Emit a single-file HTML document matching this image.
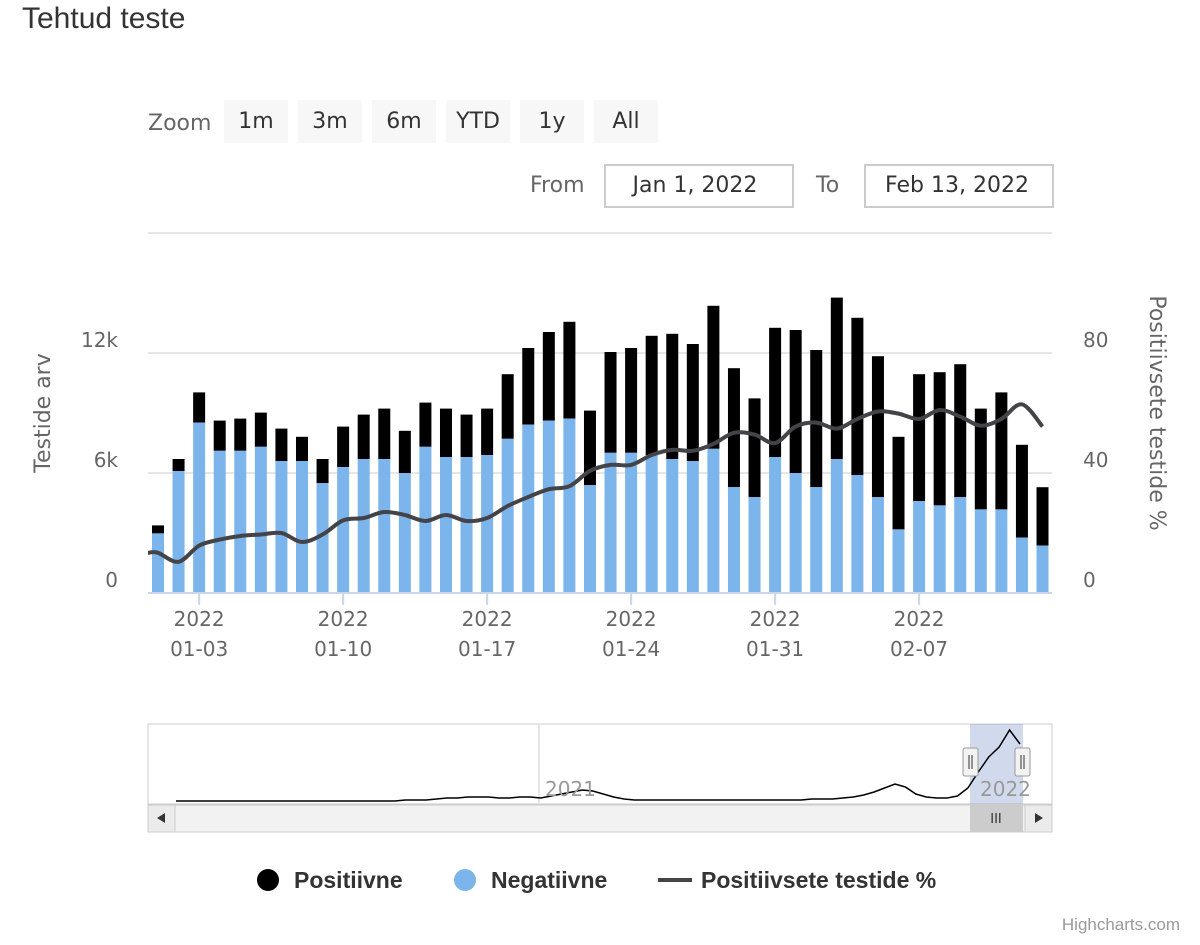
<!DOCTYPE html>
<html><head><meta charset="utf-8"><style>
body{margin:0;background:#fff;font-family:"Liberation Sans","DejaVu Sans",sans-serif;}
svg text{font-family:"DejaVu Sans","Liberation Sans",sans-serif;}
svg text.lib{font-family:"Liberation Sans","DejaVu Sans",sans-serif;}
</style></head><body>
<svg id="c" width="1200" height="940" xmlns="http://www.w3.org/2000/svg">
<text x="22" y="28" font-size="30" fill="#333" class="lib">Tehtud teste</text>
<g>
<text x="148" y="130" font-size="22" fill="#666">Zoom</text>
<rect x="224" y="100" width="64" height="43" fill="#f7f7f7"/><text x="256" y="128" font-size="22" text-anchor="middle" fill="#333">1m</text>
<rect x="298" y="100" width="64" height="43" fill="#f7f7f7"/><text x="330" y="128" font-size="22" text-anchor="middle" fill="#333">3m</text>
<rect x="372" y="100" width="64" height="43" fill="#f7f7f7"/><text x="404" y="128" font-size="22" text-anchor="middle" fill="#333">6m</text>
<rect x="446" y="100" width="64" height="43" fill="#f7f7f7"/><text x="478" y="128" font-size="22" text-anchor="middle" fill="#333">YTD</text>
<rect x="520" y="100" width="64" height="43" fill="#f7f7f7"/><text x="552" y="128" font-size="22" text-anchor="middle" fill="#333">1y</text>
<rect x="594" y="100" width="64" height="43" fill="#f7f7f7"/><text x="626" y="128" font-size="22" text-anchor="middle" fill="#333">All</text>
<text x="530" y="192" font-size="22" fill="#666">From</text>
<rect x="605" y="165" width="188" height="42" fill="#fff" stroke="#ccc" stroke-width="2"/><text x="695" y="192" font-size="22" text-anchor="middle" fill="#333">Jan 1, 2022</text>
<text x="816" y="192" font-size="22" fill="#666">To</text>
<rect x="865" y="165" width="188" height="42" fill="#fff" stroke="#ccc" stroke-width="2"/><text x="957" y="192" font-size="22" text-anchor="middle" fill="#333">Feb 13, 2022</text>
</g>
<g id="grid"></g><g id="bars"></g><g id="line"></g><g id="axes"></g><g id="nav"></g>
<g>
<g><circle cx="268" cy="880" r="11" fill="#000"/><text class="lib" x="294" y="888" font-size="23" font-weight="bold" fill="#333">Positiivne</text></g>
<g><circle cx="465" cy="880" r="11" fill="#7cb5ec"/><text class="lib" x="491" y="888" font-size="23" font-weight="bold" fill="#333">Negatiivne</text></g>
<g><line x1="658" y1="880" x2="692" y2="880" stroke="#434348" stroke-width="4"/><text class="lib" x="701" y="888" font-size="23" font-weight="bold" fill="#333">Positiivsete testide %</text></g>
</g>
<text class="lib" x="1180" y="930" font-size="17" text-anchor="end" fill="#999">Highcharts.com</text>
</svg>
<script>
const negative=[2980,6100,8520,7110,7110,7310,6600,6600,5490,6300,6700,6700,6000,7310,6800,6800,6900,7710,8420,8620,8720,5390,7010,7010,6900,6700,6600,7210,5290,4790,6800,6000,5290,6700,5900,4790,3180,4590,4380,4790,4180,4180,2770,2370];
const total=[3380,6700,10030,8620,8720,9020,8220,7810,6700,8320,8920,9220,8110,9520,9220,8920,9220,10940,12250,13050,13560,9120,12050,12250,12860,12960,12450,14360,11240,9730,13260,13150,12150,14770,13760,11840,7810,10940,11040,11440,9220,10030,7410,5290];
const percent=[13.4,10.4,15.8,17.8,19,19.5,20,17,19.5,24.2,25,27,26,24,26,24,25,29,32,34.6,35.6,40.7,42.7,42.7,46,47.7,47.4,49.7,53.4,52.8,50,55.5,56.8,54.8,58,60.5,59.8,58,61,58.8,55.8,58,62.9,55.5];
const leftTicks=[0,6000,12000];
const leftTickLabels=["0","6k","12k"];
const rightTicks=[0,40,80];
const xTickDays=[2,9,16,23,30,37];
const xTickLabels=["01-03","01-10","01-17","01-24","01-31","02-07"];
const navData=[1,1,1,1,1,1,1,1,1,1,1,1,1,1,1,1,1,1,1,1,1,1,2,2,2,3,4,4,5,5,5,4,4,5,5,4,6,8,10,12,11,8,5,3,2,2,2,2,2,2,2,2,2,2,2,2,2,2,2,2,2,3,3,3,4,5,7,10,14,18,15,8,5,4,4,6,14,30,45,55,72,58];
const NS="http://www.w3.org/2000/svg";
const X0=148,X1=1052,YT=233,YB=593;
const xDay=i=>158+i*20.57;
const yL=v=>YB-(v/18000)*(YB-YT);
const yR=v=>YB-(v/120)*(YB-YT);
function mk(p,t,a){const e=document.createElementNS(NS,t);for(const k in a)e.setAttribute(k,a[k]);p.appendChild(e);return e;}
const grid=document.getElementById('grid'),bars=document.getElementById('bars'),line=document.getElementById('line'),axes=document.getElementById('axes'),nav=document.getElementById('nav');
[0,6000,12000,18000].forEach(v=>{const g=mk(grid,'line',{x1:X0,x2:X1,y1:yL(v),y2:yL(v),stroke:'#e6e6e6','stroke-width':2});

});
leftTicks.forEach((v,i)=>{const t=mk(axes,'text',{x:118,y:yL(v)-6,'font-size':20,'text-anchor':'end',fill:'#666'});t.textContent=leftTickLabels[i];

});
rightTicks.forEach(v=>{const t=mk(axes,'text',{x:1083,y:yR(v)-6,'font-size':20,fill:'#666'});t.textContent=v;

});
let t=mk(axes,'text',{x:0,y:0,'font-size':22,fill:'#666','text-anchor':'middle',transform:'translate(50,413) rotate(-90)'});t.textContent='Testide arv';


t=mk(axes,'text',{x:0,y:0,'font-size':22,fill:'#666','text-anchor':'middle',transform:'translate(1150,413) rotate(90)'});t.textContent='Positiivsete testide %';


let ax=mk(axes,'line',{x1:X0,x2:X1,y1:YB,y2:YB,stroke:'#ccd6eb','stroke-width':2});


xTickDays.forEach((d,i)=>{const x=xDay(d);
const tk=mk(axes,'line',{x1:x,x2:x,y1:YB,y2:YB+12,stroke:'#ccd6eb','stroke-width':2});


const a=mk(axes,'text',{x:x,y:626,'font-size':20,'text-anchor':'middle',fill:'#666'});a.textContent='2022';


const b=mk(axes,'text',{x:x,y:656,'font-size':20,'text-anchor':'middle',fill:'#666'});b.textContent=xTickLabels[i];

});
const bw=12;
total.forEach((v,i)=>{const x=xDay(i)-bw/2;
const p=mk(bars,'rect',{x:x,y:yL(v),width:bw,height:yL(negative[i])-yL(v),fill:'#000'});


const n=mk(bars,'rect',{x:x,y:yL(negative[i]),width:bw,height:YB-yL(negative[i]),fill:'#7cb5ec'});

});
const pts=percent.map((v,i)=>[xDay(i),yR(v)]);
pts.unshift([X0,yR(percent[0])]);
let d='M'+pts[0][0]+','+pts[0][1];
for(let i=0;i<pts.length-1;i++){const p0=pts[Math.max(0,i-1)],p1=pts[i],p2=pts[i+1],p3=pts[Math.min(pts.length-1,i+2)];
d+=` C${p1[0]+(p2[0]-p0[0])/6},${p1[1]+(p2[1]-p0[1])/6} ${p2[0]-(p3[0]-p1[0])/6},${p2[1]-(p3[1]-p1[1])/6} ${p2[0]},${p2[1]}`;}
const lp=mk(line,'path',{d:d,fill:'none',stroke:'#434348','stroke-width':4});


// navigator
const NY0=724,NY1=804;
let nb=mk(nav,'rect',{x:X0,y:NY0,width:X1-X0,height:NY1-NY0,fill:'#fff',stroke:'#ccc'});


let nl=mk(nav,'line',{x1:539,x2:539,y1:NY0,y2:NY1,stroke:'#e6e6e6','stroke-width':2});


let sel=mk(nav,'rect',{x:970,y:NY0,width:53,height:NY1-NY0,fill:'rgba(102,133,194,0.3)'});


const nx=i=>176+i*(1020-176)/(navData.length-1), ny=v=>NY1-2-v;
let nd=navData.map((v,i)=>(i?'L':'M')+nx(i)+','+ny(v)).join(' ');
let np=mk(nav,'path',{d:nd,fill:'none',stroke:'#000','stroke-width':1.5});


[[545,'2021'],[980,'2022']].forEach(([x,s])=>{const a=mk(nav,'text',{x:x,y:796,'font-size':20,fill:'#999'});a.textContent=s;

});
[963,1015].forEach(x=>{const h=mk(nav,'rect',{x:x,y:748,width:15,height:28,fill:'#f2f2f2',stroke:'#999',rx:2});


mk(nav,'line',{x1:x+6,x2:x+6,y1:755,y2:769,stroke:'#333'});mk(nav,'line',{x1:x+9,x2:x+9,y1:755,y2:769,stroke:'#333'});});
let sb=mk(nav,'rect',{x:X0,y:805,width:X1-X0,height:27,fill:'#f2f2f2',stroke:'#ccc'});


let th=mk(nav,'rect',{x:970,y:805,width:53,height:27,fill:'#ccc'});


let tt=mk(nav,'text',{x:996,y:823,'font-size':13,'text-anchor':'middle',fill:'#333'});tt.textContent='III';
let bl=mk(nav,'rect',{x:X0,y:805,width:27,height:27,fill:'#ebebeb',stroke:'#ccc'});


let br=mk(nav,'rect',{x:1025,y:805,width:27,height:27,fill:'#ebebeb',stroke:'#ccc'});


mk(nav,'path',{d:'M165,813 L157,818 L165,823 Z',fill:'#333'});
mk(nav,'path',{d:'M1035,813 L1043,818 L1035,823 Z',fill:'#333'});
</script>
</body></html>
